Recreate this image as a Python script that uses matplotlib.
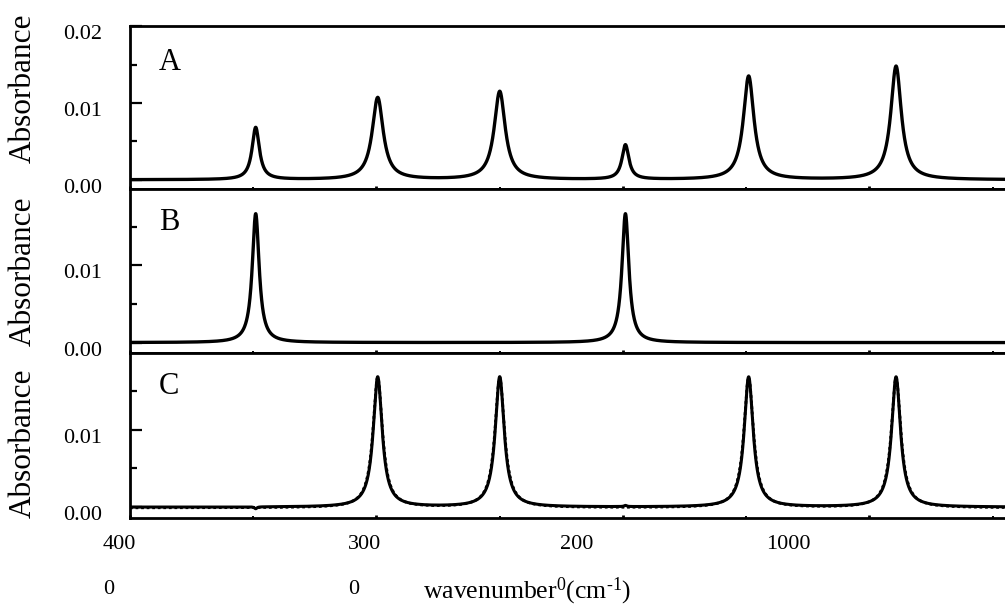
import numpy as np
import matplotlib
matplotlib.use("Agg")
import matplotlib.pyplot as plt
from matplotlib.ticker import MultipleLocator, FixedLocator, FormatStrFormatter
from matplotlib.transforms import ScaledTranslation

plt.rcParams.update({
    "font.family": "Liberation Serif",
    "mathtext.fontset": "custom",
    "mathtext.rm": "Liberation Serif",
    "mathtext.it": "Liberation Serif:italic",
})

# ---- band parameters (wavenumber in cm-1, absorbance, half width in cm-1) ----
a_centres = [3490, 2995, 2500, 1990, 1490, 892]
a_heights = [0.0068, 0.0107, 0.0115, 0.0045, 0.0135, 0.0148]
a_hwhm = [18, 27, 27, 17, 26, 26]

b_centres = [3490, 1990]
b_heights = [0.0167, 0.0167]
b_hwhm = [17, 17]

c_centres = [2995, 2500, 1490, 892]
c_heights = [0.0168, 0.0168, 0.0168, 0.0168]
c_hwhm = [22, 22, 22, 22]
c_fit_hwhm = [23.5, 23.5, 23.5, 23.5]
c_resid_centres = [3490, 1990]
c_resid_heights = [-0.00025, 0.00015]
c_resid_hwhm = [6, 6]

panel_letters = ["A", "B", "C"]
xtick_values = [4000, 3000, 2000, 1000]
xtick_text = ["400\n0", "300\n0", "200", "1000"]


def lorentz_sum(wn, centres, heights, widths, base=0.0):
    y = np.full_like(wn, base)
    for c, h, w in zip(centres, heights, widths):
        y += h * w ** 2 / ((wn - c) ** 2 + w ** 2)
    return y


wn = np.linspace(4000, 440, 6000)
spec_a = lorentz_sum(wn, a_centres, a_heights, a_hwhm, 0.0)
spec_b = lorentz_sum(wn, b_centres, b_heights, b_hwhm, 0.0)
spec_c = lorentz_sum(wn, c_centres, c_heights, c_hwhm, 0.0) + \
    lorentz_sum(wn, c_resid_centres, c_resid_heights, c_resid_hwhm)
fit_c = lorentz_sum(wn, c_centres, c_heights, c_fit_hwhm, -0.0001)

fig = plt.figure(figsize=(10.05, 6.06), dpi=100)
W, H = 1005.0, 606.0
left = 130 / W
rows = [(26, 189), (189, 353), (353, 518)]
ylims = [(-0.0012, 0.02005), (-0.00135, 0.0199), (-0.0014, 0.0199)]
ylabel_y = [0.62, 0.5, 0.455]

axes = []
for (top, bot), yl, ly in zip(rows, ylims, ylabel_y):
    ax = fig.add_axes([left, 1 - bot / H, 1 - left, (bot - top) / H])
    ax.set_xlim(4000, 450)
    ax.set_ylim(*yl)
    ax.spines["right"].set_visible(False)
    for s in ("left", "top", "bottom"):
        ax.spines[s].set_linewidth(2.0)
    ax.yaxis.set_major_locator(MultipleLocator(0.01))
    ax.yaxis.set_minor_locator(MultipleLocator(0.005))
    ax.xaxis.set_major_locator(FixedLocator(xtick_values))
    ax.xaxis.set_minor_locator(FixedLocator([3500, 2500, 1500, 500]))
    ax.tick_params(axis="y", which="major", direction="in", length=8.6,
                   width=1.6, labelsize=16, pad=20, right=False)
    ax.tick_params(axis="y", which="minor", direction="in", length=5,
                   width=1.6, right=False)
    ax.tick_params(axis="x", which="major", direction="in", length=2.2,
                   width=2.0, top=False, labelbottom=False)
    ax.tick_params(axis="x", which="minor", direction="in", length=1.4,
                   width=1.4, top=False)
    ax.yaxis.set_major_formatter(FormatStrFormatter("%.2f"))
    ax.set_ylabel("Absorbance", fontsize=22.5)
    ax.yaxis.set_label_coords(-92 / (W - 130), ly)
    axes.append(ax)

ax_a, ax_b, ax_c = axes
ax_a.plot(wn, spec_a, color="black", lw=2.4)
ax_b.plot(wn, spec_b, color="black", lw=2.4)
ax_c.plot(wn, fit_c, color="black", lw=2.0, ls=(0, (1, 1)))
ax_c.plot(wn, spec_c, color="black", lw=2.2)

for ax, letter, ypix in zip(axes, panel_letters, [62, 222, 386]):
    ax.text(159 / W, 1 - ypix / H, letter, transform=fig.transFigure,
            fontsize=22, ha="left", va="center")

# nudge y tick labels slightly downward
for ax in axes:
    for lab in ax.get_yticklabels():
        lab.set_transform(lab.get_transform() +
                          ScaledTranslation(0, -6 / 100, fig.dpi_scale_trans))

# bottom axis labels
ax_c.set_xticks(xtick_values)
ax_c.set_xticklabels(xtick_text)
ax_c.tick_params(axis="x", which="major", labelbottom=True, labelsize=16, pad=12)
offsets_px = [-27, -28.7, -63, -103]
for lab, dx in zip(ax_c.get_xticklabels(), offsets_px):
    lab.set_horizontalalignment("left")
    lab.set_multialignment("left")
    lab.set_linespacing(2.85)
    lab.set_transform(lab.get_transform() +
                      ScaledTranslation(dx / 100, 0, fig.dpi_scale_trans))

fig.text(423 / W, 1 - 598 / H, r"wavenumber$^{0}$(cm$^{\text{-}1}$)",
         fontsize=18.5, ha="left", va="baseline")

fig.savefig("out.png", dpi=100)
